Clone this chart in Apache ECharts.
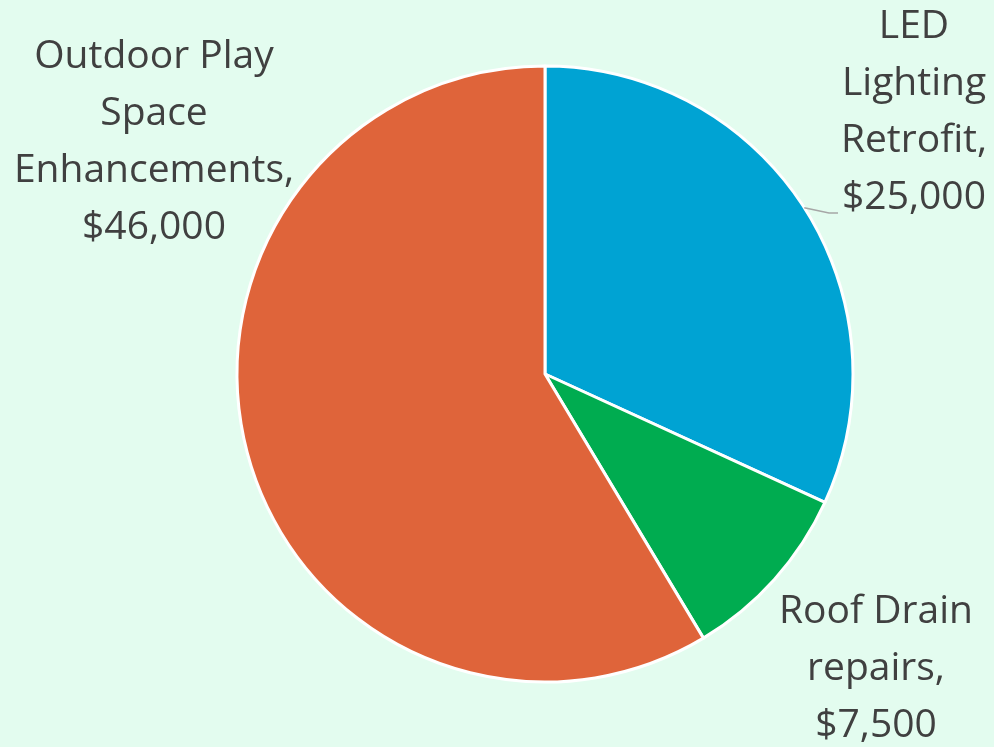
<!DOCTYPE html>
<html>
<head>
<meta charset="utf-8">
<script src="https://cdn.jsdelivr.net/npm/echarts@6/dist/echarts.min.js"></script>
<style>
html,body{margin:0;padding:0;background:#E3FCEF;}
#chart{width:994px;height:747px;}
</style>
</head>
<body>
<div id="chart"></div>
<script>
const categories = ['LED Lighting Retrofit', 'Roof Drain repairs', 'Outdoor Play Space Enhancements'];
const labelTexts = ['LED\nLighting\nRetrofit,', 'Roof Drain\nrepairs,', 'Outdoor Play\nSpace\nEnhancements,'];
const values = [25000, 7500, 46000];
const colors = ['#00A3D3', '#00AC50', '#DF643A'];

const labelPos = [
  {x: 914, y: 112},
  {x: 876, y: 669},
  {x: 154, y: 142}
];

const CX = 545, CY = 374, R = 308;
const total = values.reduce((a, b) => a + b, 0);
const midAngle0 = (90 - (values[0] / total) * 180) * Math.PI / 180;
const leadStart = [CX + R * Math.cos(midAngle0), CY - R * Math.sin(midAngle0)];

const chart = echarts.init(document.getElementById('chart'));
const fmt = v => '$' + v.toLocaleString('en-US');
chart.setOption({
  backgroundColor: '#E3FCEF',
  graphic: [{
    type: 'polyline',
    z: 10,
    shape: {points: [leadStart, [829, 213], [838, 213]]},
    style: {stroke: '#A6A6A6', lineWidth: 1.5, fill: null}
  }],
  series: [{
    type: 'pie',
    center: [CX, CY],
    radius: R,
    startAngle: 90,
    clockwise: true,
    animation: false,
    itemStyle: {borderColor: '#FFFFFF', borderWidth: 3},
    label: {
      show: true,
      color: '#404040',
      fontFamily: 'Open Sans',
      fontSize: 39,
      lineHeight: 57,
      align: 'center',
      overflow: 'none',
      formatter: p => labelTexts[p.dataIndex] + '\n' + fmt(p.value)
    },
    labelLine: {show: false},
    labelLayout: p => ({
      x: labelPos[p.dataIndex].x,
      y: labelPos[p.dataIndex].y,
      align: 'center',
      verticalAlign: 'middle'
    }),
    data: categories.map((c, i) => ({
      name: c,
      value: values[i],
      itemStyle: {color: colors[i]}
    }))
  }]
});
</script>
</body>
</html>
